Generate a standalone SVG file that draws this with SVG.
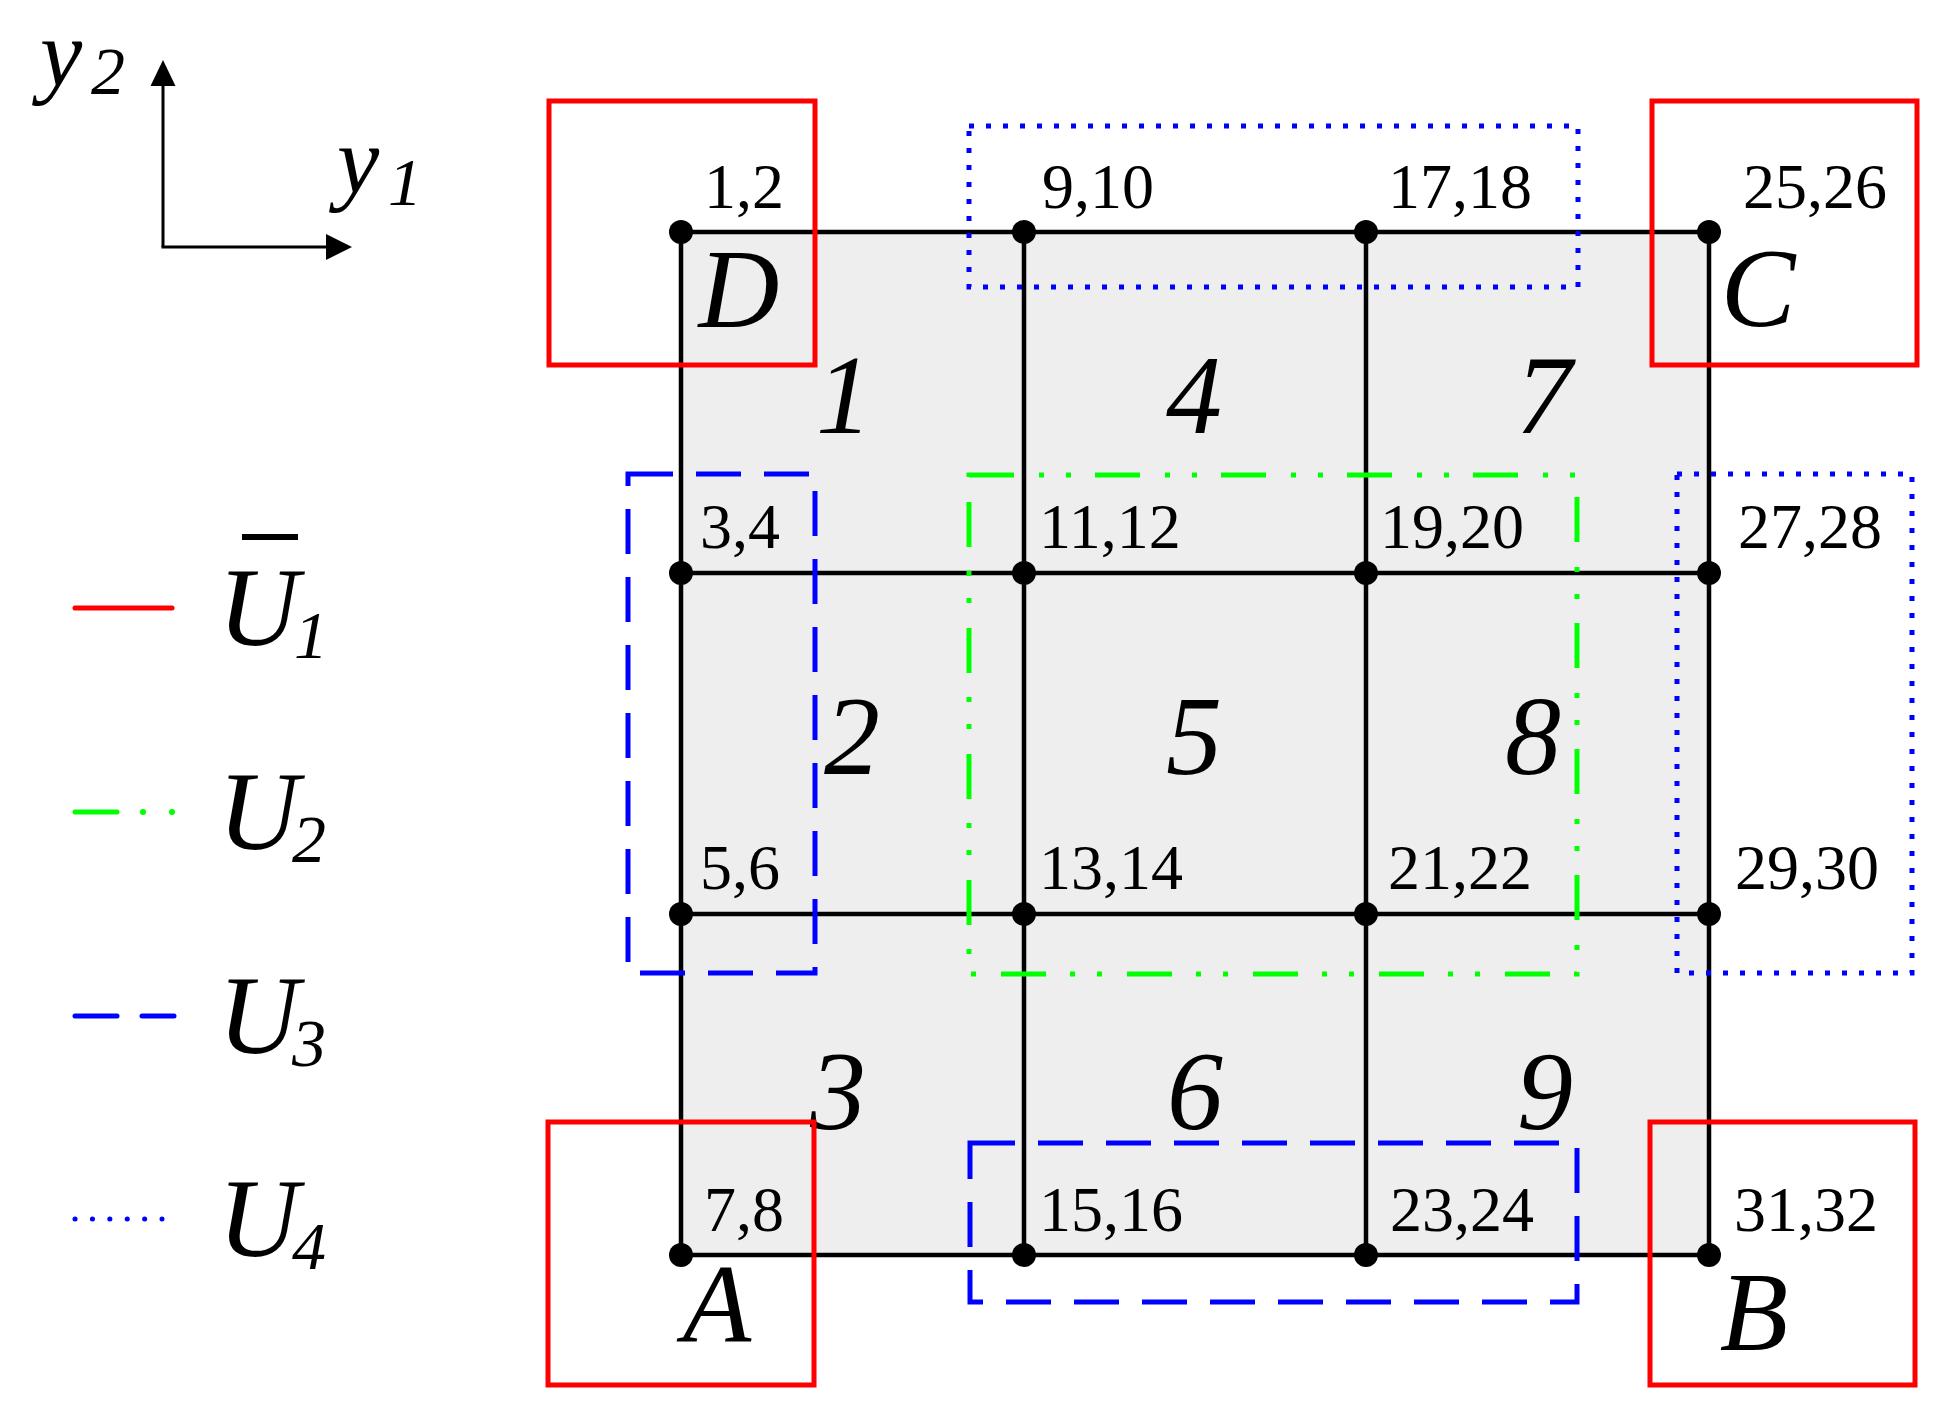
<svg xmlns="http://www.w3.org/2000/svg" width="1949" height="1415" viewBox="0 0 1949 1415">
<defs>
<style>
.grid{stroke:#000;stroke-width:4.5;fill:none}
.dot{fill:#000}
.pair{font-family:"Liberation Serif","Times New Roman",serif;font-size:64px;fill:#000}
.big{font-family:"Liberation Serif","Times New Roman",serif;font-style:italic;font-size:112px;fill:#000;text-anchor:middle}
.ax{font-family:"Liberation Serif","Times New Roman",serif;font-style:italic;font-size:95px;fill:#000}
.sub{font-family:"Liberation Serif","Times New Roman",serif;font-style:italic;font-size:68px;fill:#000}
.lu{font-family:"Liberation Serif","Times New Roman",serif;font-style:italic;font-size:112px;fill:#000}
.u1{fill:none;stroke:#ff0000;stroke-width:5}
.u2{fill:none;stroke:#00ff00;stroke-width:5;stroke-dasharray:45 25 5 22 5 24}
.u3{fill:none;stroke:#0000ff;stroke-width:5;stroke-dasharray:45 23}
.u4{fill:none;stroke:#0000ff;stroke-width:5;stroke-dasharray:5 12}
.axis{stroke:#000;stroke-width:3;fill:none}
</style>
</defs>
<rect width="1949" height="1415" fill="#fff"/>

<g id="axes">
<line class="axis" x1="163" y1="247" x2="163" y2="82"/>
<polygon points="163,60 150.5,86 175.5,86" fill="#000"/>
<line class="axis" x1="161.5" y1="247" x2="330" y2="247"/>
<polygon points="352,247 326,234 326,260" fill="#000"/>
<text class="ax" x="40" y="86">y</text>
<text class="sub" x="91" y="94">2</text>
<text class="ax" x="337" y="193">y</text>
<text class="sub" x="388" y="205">1</text>
</g>

<g id="legend">
<g id="legend-u1">
<line x1="75" y1="608" x2="172" y2="608" stroke="#ff0000" stroke-width="5" stroke-linecap="round"/>
<line x1="242" y1="537" x2="298" y2="537" stroke="#000" stroke-width="6"/>
<text class="lu" x="218" y="645">U</text>
<text class="sub" x="294" y="658">1</text>
</g>
<g id="legend-u2">
<line x1="75" y1="812" x2="117" y2="812" stroke="#00ff00" stroke-width="5" stroke-linecap="round"/>
<circle cx="143" cy="812" r="3" fill="#00ff00"/>
<circle cx="172" cy="812" r="3" fill="#00ff00"/>
<text class="lu" x="218" y="849">U</text>
<text class="sub" x="292" y="862">2</text>
</g>
<g id="legend-u3">
<line x1="75" y1="1016" x2="117" y2="1016" stroke="#0000ff" stroke-width="5" stroke-linecap="round"/>
<line x1="142" y1="1016" x2="174" y2="1016" stroke="#0000ff" stroke-width="5" stroke-linecap="round"/>
<text class="lu" x="218" y="1053">U</text>
<text class="sub" x="292" y="1066">3</text>
</g>
<g id="legend-u4">
<line x1="75" y1="1219" x2="162" y2="1219" stroke="#0000ff" stroke-width="5" stroke-linecap="round" stroke-dasharray="0.1 17.3"/>
<text class="lu" x="218" y="1256">U</text>
<text class="sub" x="292" y="1269">4</text>
</g>
</g>

<g id="plate">
<rect x="681" y="232" width="1028" height="1023" fill="#eeeeee"/>
</g>

<g id="connectors">
<line class="grid" x1="681" y1="232" x2="1709" y2="232"/>
<line class="grid" x1="681" y1="573" x2="1709" y2="573"/>
<line class="grid" x1="681" y1="914" x2="1709" y2="914"/>
<line class="grid" x1="681" y1="1255" x2="1709" y2="1255"/>
<line class="grid" x1="681" y1="232" x2="681" y2="1255"/>
<line class="grid" x1="1024" y1="232" x2="1024" y2="1255"/>
<line class="grid" x1="1366" y1="232" x2="1366" y2="1255"/>
<line class="grid" x1="1709" y1="232" x2="1709" y2="1255"/>
</g>

<g id="nodes">
<g id="n1"><circle class="dot" cx="681" cy="232" r="12"/><text class="pair" x="704" y="208">1,2</text></g>
<g id="n9"><circle class="dot" cx="1024" cy="232" r="12"/><text class="pair" x="1042" y="208">9,10</text></g>
<g id="n17"><circle class="dot" cx="1366" cy="232" r="12"/><text class="pair" x="1388" y="208">17,18</text></g>
<g id="n25"><circle class="dot" cx="1709" cy="232" r="12"/><text class="pair" x="1743" y="208">25,26</text></g>
<g id="n3"><circle class="dot" cx="681" cy="573" r="12"/><text class="pair" x="700" y="548">3,4</text></g>
<g id="n11"><circle class="dot" cx="1024" cy="573" r="12"/><text class="pair" x="1039" y="548">11,12</text></g>
<g id="n19"><circle class="dot" cx="1366" cy="573" r="12"/><text class="pair" x="1380" y="548">19,20</text></g>
<g id="n27"><circle class="dot" cx="1709" cy="573" r="12"/><text class="pair" x="1738" y="548">27,28</text></g>
<g id="n5"><circle class="dot" cx="681" cy="914" r="12"/><text class="pair" x="700" y="889">5,6</text></g>
<g id="n13"><circle class="dot" cx="1024" cy="914" r="12"/><text class="pair" x="1039" y="889">13,14</text></g>
<g id="n21"><circle class="dot" cx="1366" cy="914" r="12"/><text class="pair" x="1388" y="889">21,22</text></g>
<g id="n29"><circle class="dot" cx="1709" cy="914" r="12"/><text class="pair" x="1735" y="889">29,30</text></g>
<g id="n7"><circle class="dot" cx="681" cy="1255" r="12"/><text class="pair" x="704" y="1231">7,8</text></g>
<g id="n15"><circle class="dot" cx="1024" cy="1255" r="12"/><text class="pair" x="1039" y="1231">15,16</text></g>
<g id="n23"><circle class="dot" cx="1366" cy="1255" r="12"/><text class="pair" x="1390" y="1231">23,24</text></g>
<g id="n31"><circle class="dot" cx="1709" cy="1255" r="12"/><text class="pair" x="1734" y="1231">31,32</text></g>
</g>

<g id="elements">
<text class="big" x="844" y="433">1</text>
<text class="big" x="1194" y="433">4</text>
<text class="big" x="1544" y="433">7</text>
<text class="big" x="852" y="774">2</text>
<text class="big" x="1194" y="774">5</text>
<text class="big" x="1533" y="774">8</text>
<text class="big" x="838" y="1129">3</text>
<text class="big" x="1195" y="1129">6</text>
<text class="big" x="1545" y="1129">9</text>
</g>

<g id="corners">
<text class="big" x="739" y="327">D</text>
<text class="big" x="1758" y="326">C</text>
<text class="big" x="717" y="1342">A</text>
<text class="big" x="1754" y="1350">B</text>
</g>

<g id="regions">
<rect id="u1-D" class="u1" x="549" y="101" width="266" height="264"/>
<rect id="u1-C" class="u1" x="1652" y="101" width="265" height="264"/>
<rect id="u1-A" class="u1" x="548" y="1122" width="266" height="263"/>
<rect id="u1-B" class="u1" x="1650" y="1122" width="265" height="263"/>
<rect id="u2" class="u2" x="969" y="475" width="608" height="499"/>
<rect id="u3-left" class="u3" x="628" y="474" width="187" height="499"/>
<rect id="u3-bottom" class="u3" x="970" y="1143" width="607" height="159"/>
<rect id="u4-top" class="u4" x="969" y="126" width="609" height="161"/>
<rect id="u4-right" class="u4" x="1677" y="474" width="235" height="499"/>
</g>
</svg>
